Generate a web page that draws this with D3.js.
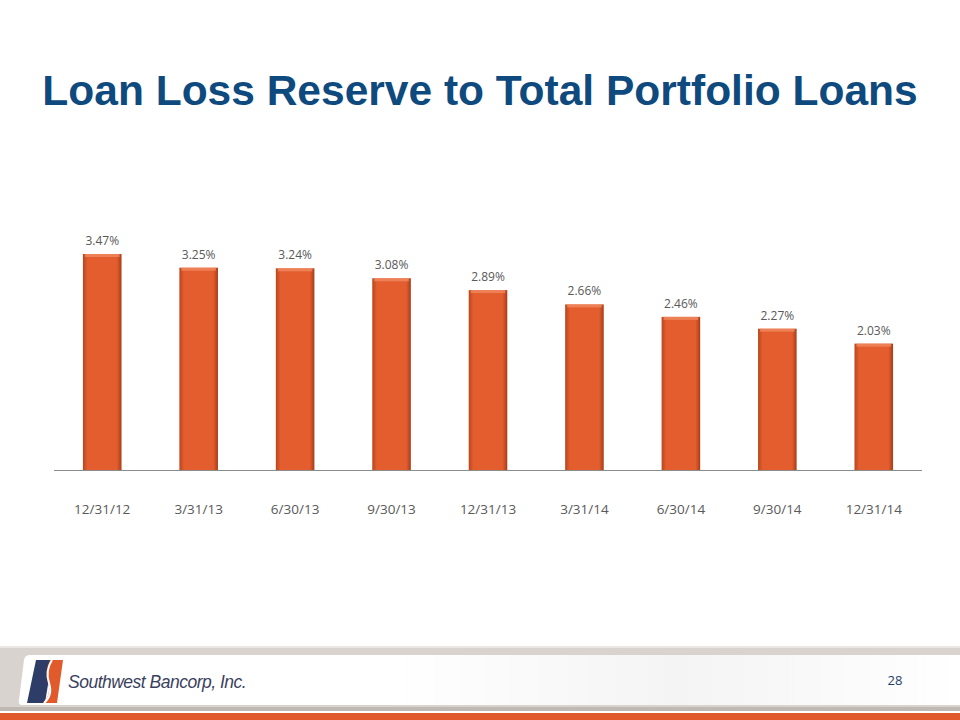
<!DOCTYPE html>
<html><head><meta charset="utf-8">
<script src="https://cdn.jsdelivr.net/npm/d3@7"></script>
<style>html,body{margin:0;padding:0;background:#fff;}svg{display:block;}</style>
</head><body>
<script>
const categories = ["12/31/12","3/31/13","6/30/13","9/30/13","12/31/13","3/31/14","6/30/14","9/30/14","12/31/14"];
const values = [3.47,3.25,3.24,3.08,2.89,2.66,2.46,2.27,2.03];
const valueLabels = ["3.47%","3.25%","3.24%","3.08%","2.89%","2.66%","2.46%","2.27%","2.03%"];
const titleText = "Loan Loss Reserve to Total Portfolio Loans";
const companyName = "Southwest Bancorp, Inc.";
const pageNumber = "28";

const W = 960, H = 720;
const svg = d3.select("body").append("svg").attr("width", W).attr("height", H);
const defs = svg.append("defs");

const g1 = defs.append("linearGradient").attr("id","barGrad").attr("x1","0").attr("x2","1").attr("y1","0").attr("y2","0");
g1.append("stop").attr("offset","0").attr("stop-color","#b9451d");
g1.append("stop").attr("offset","0.12").attr("stop-color","#e35d2e");
g1.append("stop").attr("offset","0.88").attr("stop-color","#e35d2e");
g1.append("stop").attr("offset","1").attr("stop-color","#a63d18");

const g2 = defs.append("linearGradient").attr("id","footGrad").attr("x1","0").attr("x2","1");
g2.append("stop").attr("offset","0").attr("stop-color","#ffffff");
g2.append("stop").attr("offset","0.4").attr("stop-color","#ffffff");
g2.append("stop").attr("offset","0.7").attr("stop-color","#f4f4f4");
g2.append("stop").attr("offset","1").attr("stop-color","#ffffff");

// Title
svg.append("text").attr("x", 480).attr("y", 105).attr("text-anchor","middle")
  .attr("font-family","Liberation Sans, Arial, sans-serif").attr("font-weight","bold")
  .attr("font-size", 42.5).attr("fill","#0f4a7e").text(titleText);

// Chart
const x = d3.scaleBand().domain(categories).range([54, 922]).paddingInner(0.6).paddingOuter(0.3);
const y = d3.scaleLinear().domain([0, 4]).range([470, 221]);

const bars = svg.append("g");
bars.selectAll("rect.bar").data(values).join("rect").attr("class","bar")
  .attr("x",(d,i)=>x(categories[i])).attr("width",x.bandwidth())
  .attr("y",d=>y(d)).attr("height",d=>y(0)-y(d))
  .attr("fill","url(#barGrad)");
bars.selectAll("rect.top").data(values).join("rect").attr("class","top")
  .attr("x",(d,i)=>x(categories[i])+2).attr("width",x.bandwidth()-4)
  .attr("y",d=>y(d)).attr("height",3).attr("fill","#f08a60").attr("opacity",0.8);

svg.append("g").selectAll("text").data(values).join("text")
  .attr("x",(d,i)=>x(categories[i])+x.bandwidth()/2).attr("y",d=>y(d)-9)
  .attr("text-anchor","middle").attr("font-family","Open Sans, sans-serif")
  .attr("font-size",12).attr("fill","#595959").text((d,i)=>valueLabels[i]);

const axis = svg.append("g").attr("transform","translate(0,470)")
  .call(d3.axisBottom(x).tickSize(0).tickPadding(34));
axis.select(".domain").attr("stroke","#8c8c8c").attr("stroke-width",1.2).attr("d","M54,0.5H922");
axis.selectAll("text").attr("font-family","Open Sans, sans-serif").attr("font-size",13.5).attr("fill","#595959");

// Footer
svg.append("rect").attr("x",0).attr("y",646).attr("width",W).attr("height",64).attr("fill","#d8d3cf");
svg.append("rect").attr("x",0).attr("y",646).attr("width",W).attr("height",2).attr("fill","#ebe7e4");
svg.append("path").attr("d","M30,655 H960 V705 H22 Q18,705 19,700 L24,660 Q25,655 30,655 Z").attr("fill","url(#footGrad)");
svg.append("rect").attr("x",0).attr("y",707).attr("width",W).attr("height",4).attr("fill","#bfb9b4");
svg.append("rect").attr("x",0).attr("y",713).attr("width",W).attr("height",7).attr("fill","#e05a2b");

// Logo
const logo = svg.append("g");
logo.append("path").attr("d","M36,660 H52 L45,703 H27 Z").attr("fill","#2d3d68");
logo.append("path").attr("d","M50,660 H63 L57,703 H43 Q52,694 48,683 Q44,672 50,660 Z").attr("fill","#e05a2b");
logo.append("path").attr("d","M52,660 Q45,671 49,683 Q53,695 44,703").attr("fill","none").attr("stroke","#fff").attr("stroke-width",2);
svg.append("text").attr("x",68).attr("y",688).attr("font-family","Liberation Sans, Arial, sans-serif")
  .attr("font-style","italic").attr("font-size",17.5).attr("letter-spacing",-0.5).attr("fill","#3b3f5e").text(companyName);

svg.append("text").attr("x",895).attr("y",685).attr("text-anchor","middle").attr("font-family","Open Sans, sans-serif")
  .attr("font-size",13).attr("fill","#1f3f6e").text(pageNumber);
</script>
</body></html>
